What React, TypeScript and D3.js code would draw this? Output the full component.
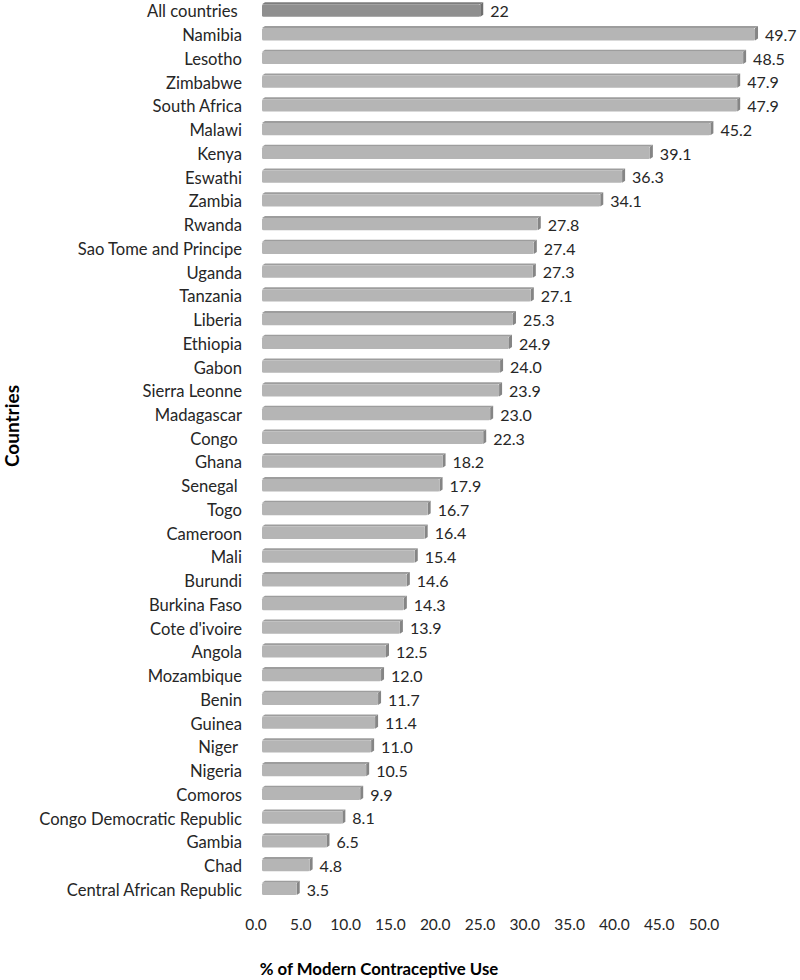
import React from "react";
import * as d3 from "d3";

// countries in display order (top to bottom)
const countries = [
  "All countries ", "Namibia", "Lesotho", "Zimbabwe", "South Africa", "Malawi", "Kenya", "Eswathi",
  "Zambia", "Rwanda", "Sao Tome and Principe", "Uganda", "Tanzania", "Liberia", "Ethiopia", "Gabon",
  "Sierra Leonne", "Madagascar", "Congo ", "Ghana", "Senegal ", "Togo", "Cameroon", "Mali", "Burundi",
  "Burkina Faso", "Cote d'ivoire", "Angola", "Mozambique", "Benin", "Guinea", "Niger ", "Nigeria",
  "Comoros", "Congo Democratic Republic", "Gambia", "Chad", "Central African Republic",
];
const values = [
  22, 49.7, 48.5, 47.9, 47.9, 45.2, 39.1, 36.3, 34.1, 27.8, 27.4, 27.3, 27.1, 25.3, 24.9, 24.0,
  23.9, 23.0, 22.3, 18.2, 17.9, 16.7, 16.4, 15.4, 14.6, 14.3, 13.9, 12.5, 12.0, 11.7, 11.4, 11.0,
  10.5, 9.9, 8.1, 6.5, 4.8, 3.5,
];
const valueLabels = values.map((v, i) => (i === 0 ? "22" : v.toFixed(1)));
const ticks = [0, 5, 10, 15, 20, 25, 30, 35, 40, 45, 50];

const W = 800;
const H = 980;
const font = "Lato, 'Open Sans', sans-serif";

export default function App() {
  // bar plane (front) and floor plane (tick labels) are scaled differently, like the 3D original
  const x = d3.scaleLinear().domain([0, 50]).range([262, 758]);
  const xFloor = d3.scaleLinear().domain([0, 50]).range([256, 704]);
  const y = d3.scaleBand().domain(countries).range([-1.4, 900.7]).paddingInner(0.48).paddingOuter(0.24);

  const bh = y.bandwidth();
  const dx = 3;
  const dy = 2;

  return (
    <svg width={W} height={H} style={{ display: "block", position: "absolute", left: 0, top: 0 }}>
      <rect width={W} height={H} fill="#fff" />
      {countries.map((c, i) => {
        const y0 = y(c)!;
        const x0 = x(0);
        const x1 = x(values[i]);
        const first = i === 0;
        const front = first ? "#8f8f8f" : "#b5b5b5";
        const top = first ? "#7d7d7d" : "#9d9d9d";
        const side = first ? "#6e6e6e" : "#858585";
        return (
          <g key={c}>
            <polygon
              points={`${x0},${y0} ${x0 + dx},${y0 - dy} ${x1 + dx},${y0 - dy} ${x1},${y0}`}
              fill={top}
            />
            <polygon
              points={`${x1},${y0} ${x1 + dx},${y0 - dy} ${x1 + dx},${y0 + bh - dy} ${x1},${y0 + bh}`}
              fill={side}
            />
            <rect x={x0} y={y0} width={x1 - x0} height={bh} fill={front} rx={1.5} />
            <text
              x={242}
              y={y0 + bh / 2 + 1}
              dy="0.36em"
              textAnchor="end"
              fontSize={16.6}
              fill="#262626"
              style={{ whiteSpace: "pre" }}
            >
              {c}
            </text>
            <text x={x1 + dx + 7} y={y0 + bh / 2 + 1} dy="0.36em" fontSize={16} fill="#262626">
              {valueLabels[i]}
            </text>
          </g>
        );
      })}
      {ticks.map((t) => (
        <text key={t} x={xFloor(t)} y={930} textAnchor="middle" fontSize={15.5} fill="#262626">
          {t.toFixed(1)}
        </text>
      ))}
      <text x={379} y={975} textAnchor="middle" fontSize={16.8} fontWeight="bold" fill="#000">
        % of Modern Contraceptive Use
      </text>
      <text
        transform="translate(19,426) rotate(-90)"
        textAnchor="middle"
        fontSize={19}
        fontWeight="bold"
        fill="#000"
      >
        Countries
      </text>
    </svg>
  );
}

// apply font family globally
const style = document.createElement("style");
style.textContent = `svg text { font-family: ${font}; }`;
document.head.appendChild(style);
